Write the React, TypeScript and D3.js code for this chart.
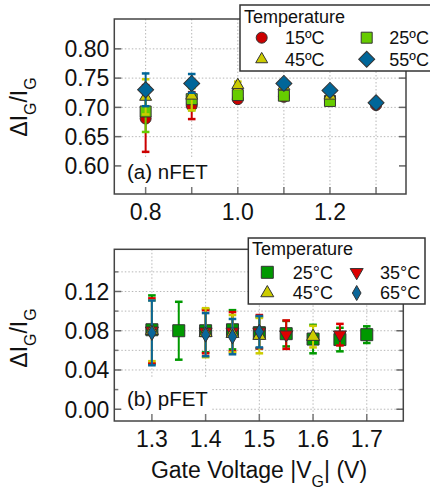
import * as d3 from "d3";

const FONT = "'Liberation Sans', Arial, sans-serif";

// (a) nFET
const nTicks = [0.8, 0.9, 1.0, 1.1, 1.2, 1.3];
const nTickLabels = [0.8, 1.0, 1.2];
const nYTicks = [0.6, 0.65, 0.7, 0.75, 0.8];
const nYGrid = [0.65, 0.7, 0.75, 0.8];

const n15Volt = [0.8, 0.9, 1.0, 1.1, 1.2, 1.3];
const n15 = [0.681, 0.703, 0.714, 0.718, 0.712, 0.704];
const n15Err = [0.057, 0.023, 0.005, 0.005, 0.005, 0.004];
const n25Volt = [0.8, 0.9, 1.0, 1.1, 1.2];
const n25 = [0.693, 0.714, 0.721, 0.72, 0.711];
const n25Err = [0.035, 0.019, 0.006, 0.005, 0.005];
const n45Volt = [0.8, 0.9, 1.0, 1.1, 1.2];
const n45 = [0.718, 0.72, 0.738, 0.736, 0.72];
const n45Err = [0.03, 0.025, 0.006, 0.004, 0.004];
const n55Volt = [0.8, 0.9, 1.1, 1.2, 1.3];
const n55 = [0.73, 0.741, 0.741, 0.729, 0.708];
const n55Err = [0.028, 0.016, 0.004, 0.004, 0.003];

// (b) pFET
const pTicks = [1.3, 1.4, 1.5, 1.6, 1.7];
const pYGrid = [0, 0.02, 0.04, 0.06, 0.08, 0.1, 0.12, 0.14];
const pYTicks = [0, 0.04, 0.08, 0.12];

const p25Volt = [1.3, 1.35, 1.4, 1.45, 1.5, 1.55, 1.6, 1.65, 1.7];
const p25 = [0.081, 0.08, 0.08, 0.081, 0.078, 0.077, 0.0715, 0.071, 0.076];
const p25Err = [0.035, 0.0295, 0.022, 0.02, 0.016, 0.013, 0.0145, 0.012, 0.0085];
const p35Volt = [1.3, 1.4, 1.45, 1.5, 1.55, 1.65];
const p35 = [0.08, 0.079, 0.079, 0.079, 0.076, 0.076];
const p35Err = [0.033, 0.022, 0.02, 0.017, 0.0145, 0.011];
const p45Volt = [1.3, 1.4, 1.45, 1.5, 1.6];
const p45 = [0.08, 0.078, 0.077, 0.075, 0.074];
const p45Err = [0.031, 0.025, 0.019, 0.018, 0.011];
const p65Volt = [1.3, 1.4, 1.45, 1.5];
const p65 = [0.0778, 0.076, 0.074, 0.079];
const p65Err = [0.033, 0.022, 0.018, 0.016];

type Series = {
  label: string;
  xs: number[];
  ys: number[];
  err: number[];
  color: string;
  shape: d3.SymbolType;
  size: number;
  rotate?: number;
};

const nSeries: Series[] = [
  { label: "15ºC", xs: n15Volt, ys: n15, err: n15Err, color: "#cc0000", shape: d3.symbolCircle, size: 95 },
  { label: "25ºC", xs: n25Volt, ys: n25, err: n25Err, color: "#66cc00", shape: d3.symbolSquare, size: 121 },
  { label: "45ºC", xs: n45Volt, ys: n45, err: n45Err, color: "#cccc00", shape: d3.symbolTriangle, size: 62 },
  { label: "55ºC", xs: n55Volt, ys: n55, err: n55Err, color: "#006699", shape: d3.symbolSquare, size: 128, rotate: 45 },
];

const pSeries: Series[] = [
  { label: "25°C", xs: p25Volt, ys: p25, err: p25Err, color: "#009900", shape: d3.symbolSquare, size: 144 },
  { label: "35°C", xs: p35Volt, ys: p35, err: p35Err, color: "#dd0000", shape: d3.symbolTriangle, size: 73, rotate: 180 },
  { label: "45°C", xs: p45Volt, ys: p45, err: p45Err, color: "#cccc00", shape: d3.symbolTriangle, size: 73 },
  { label: "65°C", xs: p65Volt, ys: p65, err: p65Err, color: "#0a6699", shape: d3.symbolDiamond, size: 65 },
];

function Marker({ s, x, y }: { s: Series; x: number; y: number }) {
  const path = d3.symbol().type(s.shape).size(s.size)() as string;
  return (
    <path
      d={path}
      transform={`translate(${x},${y}) rotate(${s.rotate || 0})`}
      fill={s.color}
      stroke="#333"
      strokeWidth={1}
    />
  );
}

type PanelProps = {
  x: d3.ScaleLinear<number, number>;
  y: d3.ScaleLinear<number, number>;
  xTicks: number[];
  xLabels: number[];
  xFmt: (v: number) => string;
  yGrid: number[];
  yTicks: number[];
  yLabels: number[];
  yFmt: (v: number) => string;
  series: Series[];
  tag: string;
  tagBox: [number, number, number, number];
};

function Panel(p: PanelProps) {
  const [x0, x1] = p.x.range();
  const [y0, y1] = p.y.range(); // y0 bottom, y1 top
  const cap = 3.8;
  return (
    <g>
      {p.xTicks.map((v) => (
        <line key={"gx" + v} x1={p.x(v)} x2={p.x(v)} y1={y1} y2={y0} stroke="#b8b8b8" strokeDasharray="1.5,2" />
      ))}
      {p.yGrid.map((v) => (
        <line key={"gy" + v} x1={x0} x2={x1} y1={p.y(v)} y2={p.y(v)} stroke="#b8b8b8" strokeDasharray="1.5,2" />
      ))}
      <rect x={p.tagBox[0]} y={p.tagBox[1]} width={p.tagBox[2]} height={p.tagBox[3]} fill="#fff" />
      {p.xTicks.map((v) => (
        <line key={"tx" + v} x1={p.x(v)} x2={p.x(v)} y1={y0} y2={y0 - 7} stroke="#777" strokeWidth={1.5} />
      ))}
      {p.yTicks.map((v) => (
        <g key={"ty" + v}>
          <line x1={x0} x2={x0 + 7} y1={p.y(v)} y2={p.y(v)} stroke="#666" strokeWidth={1.5} />
          <line x1={x1} x2={x1 - 7} y1={p.y(v)} y2={p.y(v)} stroke="#666" strokeWidth={1.5} />
        </g>
      ))}
      {p.yGrid
        .filter((v) => !p.yTicks.includes(v))
        .map((v) => (
          <g key={"my" + v}>
            <line x1={x0} x2={x0 + 4} y1={p.y(v)} y2={p.y(v)} stroke="#777" strokeWidth={1.5} />
            <line x1={x1} x2={x1 - 4} y1={p.y(v)} y2={p.y(v)} stroke="#777" strokeWidth={1.5} />
          </g>
        ))}
      {p.series.map((s) => (
        <g key={s.label}>
          {s.xs.map((v, i) => {
            const cx = p.x(v);
            const top = p.y(s.ys[i] + s.err[i]);
            const bot = p.y(s.ys[i] - s.err[i]);
            return (
              <g key={i} stroke={s.color} strokeWidth={2}>
                <line x1={cx} x2={cx} y1={top} y2={bot} />
                <line x1={cx - cap} x2={cx + cap} y1={top} y2={top} strokeWidth={2.5} />
                <line x1={cx - cap} x2={cx + cap} y1={bot} y2={bot} strokeWidth={2.5} />
              </g>
            );
          })}
          {s.xs.map((v, i) => (
            <Marker key={"m" + i} s={s} x={p.x(v)} y={p.y(s.ys[i])} />
          ))}
        </g>
      ))}
      <rect x={x0} y={y1} width={x1 - x0} height={y0 - y1} fill="none" stroke="#444" strokeWidth={1.5} />
      {p.xLabels.map((v) => (
        <text key={"lx" + v} x={p.x(v)} y={y0 + 26} textAnchor="middle" fontSize={23}>
          {p.xFmt(v)}
        </text>
      ))}
      {p.yLabels.map((v) => (
        <text key={"ly" + v} x={x0 - 5} y={p.y(v)} dy="0.36em" textAnchor="end" fontSize={23}>
          {p.yFmt(v)}
        </text>
      ))}
      <text x={p.tagBox[0] + 12} y={p.tagBox[1] + p.tagBox[3] - 14} fontSize={20.5}>
        {p.tag}
      </text>
    </g>
  );
}

function Legend({
  series,
  box,
  title,
  rows,
  cols,
  textX,
}: {
  series: Series[];
  box: [number, number, number, number];
  title: [number, number];
  rows: number[];
  cols: number[];
  textX: number[];
}) {
  return (
    <g>
      <rect x={box[0]} y={box[1]} width={box[2]} height={box[3]} fill="#fff" stroke="#333" strokeWidth={1.5} />
      <text x={title[0]} y={title[1]} fontSize={18}>
        Temperature
      </text>
      {series.map((s, i) => {
        const r = Math.floor(i / 2);
        const c = i % 2;
        return (
          <g key={s.label}>
            <Marker s={s} x={cols[c]} y={rows[r]} />
            <text x={textX[c]} y={rows[r]} dy="0.36em" fontSize={18}>
              {s.label}
            </text>
          </g>
        );
      })}
    </g>
  );
}

function YTitle({ cx, cy }: { cx: number; cy: number }) {
  return (
    <text transform={`translate(${cx},${cy}) rotate(-90)`} textAnchor="middle" fontSize={23}>
      ΔI<tspan baselineShift="sub" fontSize={16}>G</tspan>/I<tspan baselineShift="sub" fontSize={16}>G</tspan>
    </text>
  );
}

export default function App() {
  const xa = d3.scaleLinear().domain([0.732, 1.365]).range([114.3, 406]);
  const ya = d3.scaleLinear().domain([0.552, 0.851]).range([194, 19]);
  const xb = d3.scaleLinear().domain([1.23, 1.768]).range([114.3, 403.3]);
  const yb = d3.scaleLinear().domain([-0.012, 0.163]).range([421, 249.3]);

  return (
    <svg
      width={430}
      height={488}
      style={{ position: "absolute", left: 0, top: 0, background: "#fff" }}
      fontFamily={FONT}
      fill="#111"
    >
      <Panel
        x={xa}
        y={ya}
        xTicks={nTicks}
        xLabels={nTickLabels}
        xFmt={d3.format(".1f")}
        yGrid={nYGrid}
        yTicks={nYTicks}
        yLabels={nYTicks}
        yFmt={d3.format(".2f")}
        series={nSeries}
        tag="(a) nFET"
        tagBox={[115, 158, 96, 35]}
      />
      <Panel
        x={xb}
        y={yb}
        xTicks={pTicks}
        xLabels={pTicks}
        xFmt={d3.format(".1f")}
        yGrid={pYGrid}
        yTicks={pYTicks}
        yLabels={pYTicks}
        yFmt={d3.format(".2f")}
        series={pSeries}
        tag="(b) pFET"
        tagBox={[115, 377, 96, 43]}
      />
      <YTitle cx={27} cy={107} />
      <YTitle cx={27} cy={338} />
      <text x={259} y={478} textAnchor="middle" fontSize={23}>
        Gate Voltage |V<tspan baselineShift="sub" fontSize={16}>G</tspan>| (V)
      </text>
      <Legend
        series={nSeries}
        box={[240, 5, 200, 66]}
        title={[244, 23]}
        rows={[37.7, 59.3]}
        cols={[261.7, 366.7]}
        textX={[285, 389.3]}
      />
      <Legend
        series={pSeries}
        box={[248.3, 238, 176.7, 66]}
        title={[252, 255]}
        rows={[272.3, 293]}
        cols={[267.3, 356.7]}
        textX={[292.7, 380]}
      />
    </svg>
  );
}
